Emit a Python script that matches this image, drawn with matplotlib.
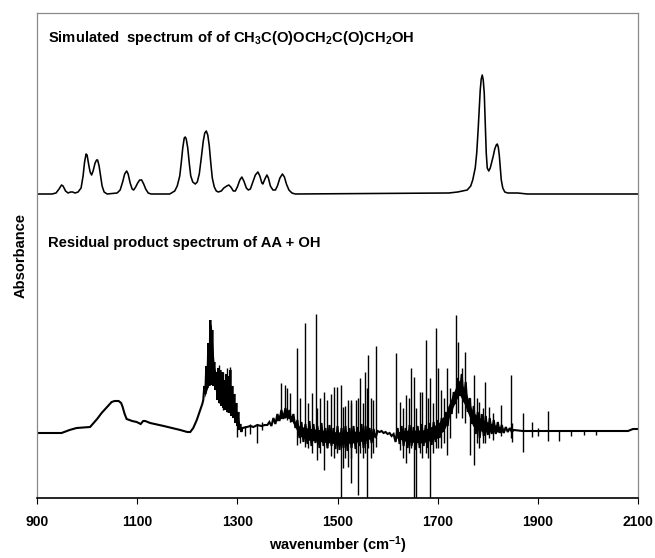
import matplotlib
matplotlib.use("Agg")
import matplotlib.pyplot as plt

plt.rcParams['font.family'] = ['Liberation Sans', 'DejaVu Sans']
plt.rcParams['font.weight'] = 'bold'
plt.rcParams['mathtext.fontset'] = 'custom'
plt.rcParams['mathtext.rm'] = 'Liberation Sans:bold'
plt.rcParams['mathtext.default'] = 'rm'

# ---------------- data (absorbance in arbitrary units) ----------------
x_ticks = [900, 1100, 1300, 1500, 1700, 1900, 2100]

# Simulated spectrum of CH3C(O)OCH2C(O)CH2OH (offset trace)
sim_w = [900, 930, 938, 944, 949, 952, 957, 962, 967, 971, 976, 982, 988, 992, 995,
         998, 1000, 1003, 1006, 1009, 1012, 1016, 1019, 1021, 1024, 1027, 1030,
         1034, 1040, 1060, 1066, 1071, 1075, 1079, 1082, 1086, 1090, 1093, 1097,
         1101, 1105, 1109, 1113, 1117, 1122, 1128, 1165, 1175, 1180, 1185, 1188,
         1191, 1194, 1196, 1198, 1201, 1204, 1207, 1211, 1216, 1220, 1224, 1228,
         1232, 1235, 1238, 1241, 1244, 1247, 1250, 1254, 1258, 1262, 1268, 1273,
         1279, 1283, 1287, 1292, 1296, 1300, 1305, 1309, 1313, 1318, 1322, 1326,
         1331, 1336, 1341, 1345, 1349, 1351, 1355, 1359, 1362, 1366, 1371, 1376,
         1380, 1385, 1390, 1394, 1398, 1403, 1409, 1416, 1722, 1740, 1759, 1766,
         1770, 1775, 1778, 1781, 1783, 1785, 1787, 1789, 1791, 1793, 1795, 1797,
         1799, 1802, 1805, 1808, 1811, 1814, 1817, 1819, 1821, 1823, 1825, 1827,
         1830, 1834, 1840, 1860, 1879, 2100]
sim_a = [304, 304, 305, 309, 313, 312, 307, 305, 306, 306, 305, 306, 310, 322, 336,
         344, 343, 334, 326, 323, 327, 335, 338, 338, 332, 322, 312,
         306, 304, 305, 308, 316, 324, 327, 324, 315, 309, 308, 311,
         315, 318, 318, 314, 309, 305, 304, 304, 307, 312, 322, 335,
         350, 360, 361, 359, 350, 335, 322, 316, 314, 316, 324, 340,
         357, 365, 367, 363, 352, 335, 320, 311, 307, 306, 307, 310,
         312, 313, 311, 307, 307, 311, 318, 321, 317, 310, 308, 309,
         316, 323, 326, 322, 315, 314, 319, 323, 320, 312, 308, 308,
         312, 320, 324, 321, 314, 308, 305, 304, 305, 306, 308, 312,
         318, 330, 345, 370, 390, 408, 419, 423, 418, 405, 375, 345,
         330, 327, 330, 336, 342, 349, 353, 354, 351, 343, 330, 318,
         310, 306, 305, 305, 304, 304]

# Residual product spectrum of AA + OH (noisy trace, read point by point)
res_w = [900, 930, 949, 965, 979, 1006, 1020, 1029, 1040, 1049, 1055, 1063, 1068,
         1071, 1075, 1079, 1090, 1099, 1107, 1112, 1116, 1126, 1153, 1186, 1200,
         1206, 1212, 1219, 1226, 1230,
         1232, 1234, 1236, 1238, 1240, 1242, 1244, 1246, 1248, 1250, 1252, 1254,
         1256, 1258, 1260, 1262, 1264, 1266, 1268, 1270, 1272, 1274, 1276, 1278,
         1280, 1282, 1284, 1286, 1288, 1290, 1292, 1294, 1296, 1298, 1300, 1302,
         1304, 1306, 1308, 1310,
         1319, 1326, 1332, 1340, 1348, 1355,
         1360, 1364, 1368, 1372, 1376, 1380, 1384, 1388, 1392, 1396, 1400, 1404,
         1408, 1412, 1416, 1420, 1424, 1428, 1432, 1436, 1440, 1444, 1448, 1452,
         1456, 1460, 1464, 1468, 1472, 1476, 1480, 1484, 1488, 1492, 1496, 1500,
         1504, 1508, 1512, 1516, 1520, 1524, 1528, 1532, 1536, 1540, 1544, 1548,
         1552, 1556, 1560, 1564, 1568, 1572, 1576, 1580, 1584, 1588, 1592, 1596,
         1600, 1604, 1608, 1612, 1616, 1620, 1624, 1628, 1632, 1636, 1640, 1644,
         1648, 1652, 1656, 1660, 1664, 1668, 1672, 1676, 1680, 1684, 1688, 1692,
         1696, 1700, 1704, 1708, 1712, 1716, 1720, 1724, 1728, 1732, 1736, 1740,
         1744, 1748, 1752, 1756, 1760, 1764, 1768, 1772, 1776, 1780, 1784, 1788,
         1792, 1796, 1800, 1804, 1808, 1812, 1816, 1820, 1824, 1828, 1832, 1836,
         1840, 1844, 1848, 1852, 1870, 1900, 1950, 2000, 2040, 2080, 2090, 2100]
res_a = [65, 65, 65, 68, 70, 71, 79, 85, 91, 96, 97, 97, 95,
         91, 84, 79, 77, 76, 74, 77, 77, 75, 72, 68, 66,
         66, 70, 78, 88, 94,
         98, 112, 104, 132, 110, 155, 112, 178, 113, 168, 112, 136,
         108, 126, 98, 130, 95, 128, 92, 126, 90, 118, 88, 124,
         86, 122, 85, 128, 82, 112, 80, 104, 75, 95, 72, 86,
         68, 74, 66, 70,
         71, 72, 71, 73, 72, 73,
         73, 76, 72, 80, 74, 84, 77, 88, 79, 90, 80, 88,
         76, 84, 70, 78, 60, 76, 56, 74, 54, 77, 52, 74,
         55, 72, 50, 75, 52, 70, 50, 73, 52, 70, 49, 72,
         48, 70, 50, 72, 47, 70, 50, 72, 49, 71, 52, 74,
         50, 72, 54, 70, 55, 69, 60, 67, 66, 67, 65, 66,
         64, 65, 62, 64, 56, 70, 54, 72, 52, 70, 50, 73,
         52, 71, 48, 72, 50, 74, 52, 73, 50, 75, 53, 76,
         56, 78, 60, 80, 66, 86, 72, 92, 84, 106, 94, 120,
         102, 124, 96, 116, 86, 100, 74, 92, 64, 86, 60, 84,
         62, 82, 63, 80, 64, 78, 64, 76, 65, 73, 65, 71,
         66, 70, 66, 68, 67, 67, 67, 67, 67, 67, 69, 69]

# Unresolved dense cores of the noisy regions: lower / upper edges
core1_w = [1234, 1238, 1242, 1246, 1248, 1250, 1254, 1260, 1270, 1280, 1290, 1298, 1304]
core1_lo = [100, 106, 112, 115, 115, 114, 112, 102, 94, 90, 84, 76, 70]
core1_hi = [108, 128, 150, 172, 174, 160, 132, 120, 116, 114, 100, 86, 74]
core2_w = [1372, 1385, 1396, 1408, 1416, 1424, 1440, 1470, 1500, 1530, 1560, 1574]
core2_lo = [75, 79, 81, 78, 70, 62, 58, 56, 54, 55, 58, 62]
core2_hi = [77, 84, 86, 82, 76, 72, 70, 68, 66, 67, 66, 66]
core3_w = [1618, 1640, 1670, 1700, 1715, 1730, 1743, 1755, 1770, 1790, 1810, 1830]
core3_lo = [60, 56, 55, 60, 70, 90, 104, 92, 72, 66, 66, 66]
core3_hi = [66, 68, 68, 74, 84, 104, 118, 108, 86, 78, 74, 70]

# Individual sharp spikes: position, top, bottom
spike_w = [1264, 1272, 1279, 1286, 1299, 1315, 1325, 1339, 1350,
           1387, 1395, 1399, 1406, 1419, 1425, 1436, 1442, 1450, 1457, 1459,
           1465, 1473, 1480, 1488, 1494, 1499, 1506, 1511, 1514, 1520, 1526,
           1527, 1536, 1540, 1544, 1550, 1554, 1559, 1561, 1566, 1571, 1576,
           1617, 1625, 1630, 1636, 1642, 1647, 1653, 1656, 1664, 1669, 1676,
           1680, 1685, 1690, 1697, 1701, 1706, 1712, 1718, 1725, 1736, 1741,
           1748, 1754, 1764, 1773, 1778, 1783, 1790, 1794, 1803, 1810, 1826,
           1846, 1849, 1871, 1889, 1900, 1921, 1943, 1966, 1993, 2017]
spike_hi = [133, 126, 130, 131, 75, 72, 74, 74, 76,
            115, 113, 110, 105, 150, 100, 175, 95, 105, 184, 90,
            100, 106, 98, 104, 111, 111, 113, 91, 92, 98, 95,
            98, 98, 100, 120, 95, 126, 110, 143, 100, 98, 152,
            145, 96, 90, 103, 100, 130, 121, 90, 106, 106, 158,
            100, 120, 95, 170, 130, 108, 100, 130, 110, 183, 156,
            130, 146, 100, 123, 100, 96, 90, 116, 91, 85, 93,
            123, 75, 85, 76, 70, 87, 68, 67, 67, 67]
spike_lo = [95, 88, 86, 85, 61, 62, 64, 55, 68,
            80, 80, 78, 76, 53, 55, 51, 50, 45, 60, 38,
            45, 28, 50, 42, 40, 45, 0, 30, 40, 31, 15,
            40, 45, 3, 45, 40, 45, 0, 50, 40, 45, 51,
            60, 48, 40, 35, 45, 50, 0, 0, 45, 40, 45,
            40, 0, 45, 50, 50, 50, 55, 43, 60, 80, 85,
            80, 75, 43, 33, 55, 50, 55, 55, 60, 58, 62,
            60, 56, 46, 61, 62, 57, 57, 62, 63, 63]

# ---------------- figure ----------------
fig = plt.figure(figsize=(6.55, 5.58), dpi=100)
ax = fig.add_axes([37 / 655, 60 / 558, 601 / 655, 485 / 558])

ax.plot(sim_w, sim_a, color='black', lw=1.15, solid_joinstyle='round')
ax.plot(res_w, res_a, color='black', lw=1.5, solid_joinstyle='miter')
for cw, clo, chi in [(core1_w, core1_lo, core1_hi),
                     (core2_w, core2_lo, core2_hi),
                     (core3_w, core3_lo, core3_hi)]:
    ax.fill_between(cw, clo, chi, color='black', lw=0)
ax.vlines(spike_w, spike_lo, spike_hi, color='black', lw=1.0)

ax.set_xlim(900, 2100)
ax.set_ylim(0, 485)
ax.set_xticks(x_ticks)
ax.set_xticklabels([str(t) for t in x_ticks], fontsize=10, fontweight='bold')
ax.set_yticks([])
ax.tick_params(axis='x', direction='out', length=4, width=0.8, pad=8)

for s in ['left', 'top', 'right']:
    ax.spines[s].set_color('#8a8a8a')
    ax.spines[s].set_linewidth(0.9)
ax.spines['bottom'].set_color('black')
ax.spines['bottom'].set_linewidth(1.2)

ax.set_xlabel('wavenumber (cm$^{-1}$)', fontsize=10.5, fontweight='bold', labelpad=4)
ax.set_ylabel('Absorbance', fontsize=10.5, fontweight='bold', labelpad=7)

ax.text(922, 460, 'Simulated  spectrum of of CH$_3$C(O)OCH$_2$C(O)CH$_2$OH',
        fontsize=10.6, fontweight='bold', ha='left', va='center')
ax.text(922, 255, 'Residual product spectrum of AA + OH',
        fontsize=10.6, fontweight='bold', ha='left', va='center')

fig.savefig('out.png', dpi=100)
